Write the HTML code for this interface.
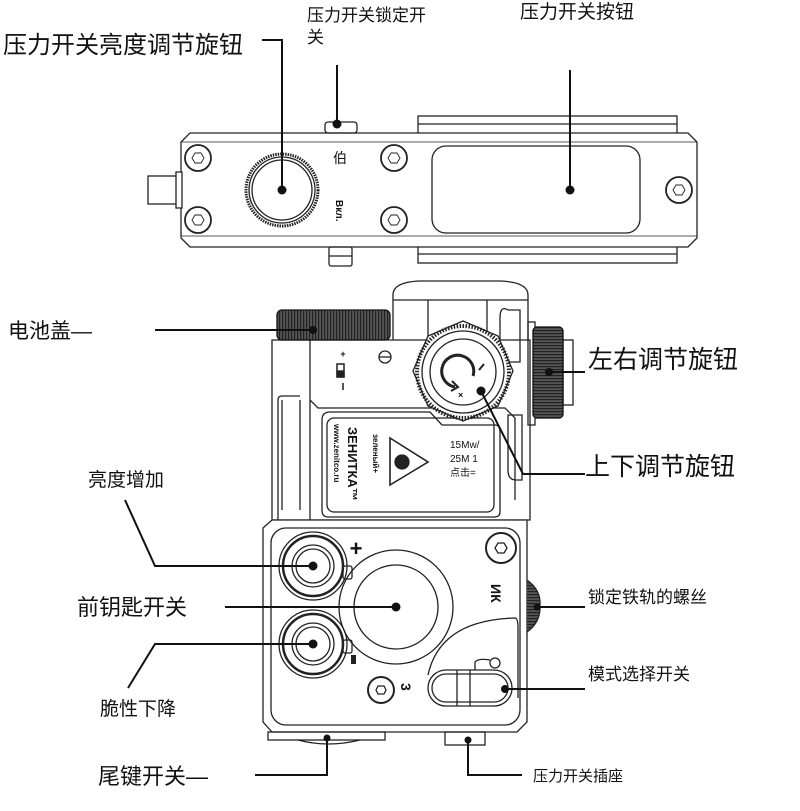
<!DOCTYPE html>
<html><head><meta charset="utf-8"><style>
html,body{margin:0;padding:0;background:#fff;}
svg{display:block;}
text{font-family:"Liberation Sans","Noto Sans CJK SC",sans-serif;fill:#111;}
</style></head><body>
<svg width="800" height="811" viewBox="0 0 800 811" xmlns="http://www.w3.org/2000/svg">
<defs>
<pattern id="kn" width="3" height="10" patternUnits="userSpaceOnUse"><rect width="3" height="10" fill="#555"/><rect width="1.2" height="10" fill="#222"/></pattern>
<pattern id="knh" width="10" height="3" patternUnits="userSpaceOnUse"><rect width="10" height="3" fill="#555"/><rect width="10" height="1.2" fill="#222"/></pattern>
</defs>
<g fill="none" stroke="#222" stroke-width="1.3">
<rect x="418" y="116" width="259" height="26"/>
<line x1="418" y1="124" x2="677" y2="124"/>
<rect x="418" y="237" width="259" height="26"/>
<line x1="418" y1="254" x2="677" y2="254"/>
<path d="M190 133 H688 L697 142 V238 L688 247 H190 L181 238 V142 Z" fill="#fff"/>
<line x1="181" y1="142" x2="697" y2="142" stroke-width="0.8"/>
<line x1="181" y1="236" x2="697" y2="236" stroke-width="0.8"/>
<rect x="148" y="176" width="30" height="28" fill="#fff"/>
<rect x="176" y="172" width="6" height="36" fill="#fff"/>
<rect x="325" y="122" width="32" height="11" rx="3"/>
<rect x="329" y="247" width="23" height="19" rx="2"/>
<line x1="329" y1="256" x2="352" y2="256"/>
<rect x="432" y="146" width="208" height="87" rx="14"/>
<circle cx="282" cy="190" r="36" stroke-width="3" stroke-dasharray="1.5 1"/>
<circle cx="282" cy="190" r="33"/>
<circle cx="282" cy="190" r="30"/>
<g stroke-width="1.8">
<circle cx="198" cy="158" r="13"/><circle cx="198" cy="220" r="13"/>
<circle cx="394" cy="158" r="13"/><circle cx="394" cy="220" r="13"/>
<circle cx="679" cy="190" r="13"/>
</g>
<g stroke-width="0.9">
<polygon points="192,158 195,153 201,153 204,158 201,163 195,163"/>
<polygon points="192,220 195,215 201,215 204,220 201,225 195,225"/>
<polygon points="388,158 391,153 397,153 400,158 397,163 391,163"/>
<polygon points="388,220 391,215 397,215 400,220 397,225 391,225"/>
<polygon points="673,190 676,185 682,185 685,190 682,195 676,195"/>
</g>

<path d="M393 340 V295 Q393 282 420 281 H500 Q528 282 528 295 V340" fill="#fff"/>
<line x1="393" y1="300" x2="528" y2="300"/>
<line x1="428" y1="300" x2="428" y2="340"/>
<line x1="487" y1="300" x2="487" y2="340"/>
<path d="M272 340 H530 V520 H272 Z" fill="#fff"/>
<path d="M310 340 V400 L318 408 H505 L515 418 V500 M310 340 V520" />
<path d="M282 400 V510 M300 400 V510 M278 520 V400 Q278 396 282 396 H300"/>
<path d="M508 310 Q500 305 500 318 V355 Q500 362 508 362 H520 V310 Z"/>
<path d="M508 415 V470 Q508 480 516 480 H522 V415 Z"/>
<rect x="277" y="310" width="113" height="30" rx="5" fill="url(#kn)" stroke="#111"/>
<path d="M330 412 H430 L442 425 H495 Q500 425 500 432 V512 Q500 517 494 517 H328 Q322 517 322 510 V420 Q322 412 330 412 Z"/>
<rect x="327" y="418" width="167" height="94" rx="7"/>
<polygon points="390,438 428,462 390,485" stroke-width="1.6"/>
<circle cx="402" cy="462" r="7" fill="#222"/>
<polygon points="463,321 498,336 513,371 498,406 463,421 428,406 413,371 428,336" fill="#fff"/>
<circle cx="463" cy="372" r="46" stroke-width="4" stroke-dasharray="1.5 1.5"/>
<circle cx="463" cy="372" r="41"/>
<circle cx="463" cy="372" r="33"/>
<path d="M455 387 A16 16 0 1 1 473 376" stroke-width="3"/>
<path d="M452 381 L458 387 L451 391" stroke-width="2"/>
<line x1="479" y1="370" x2="484" y2="364" stroke-width="2"/>
<rect x="528" y="322" width="7" height="103"/>
<rect x="563" y="340" width="10" height="65"/>
<rect x="533" y="327" width="30" height="91" rx="4" fill="url(#knh)" stroke="#111"/>
<circle cx="385" cy="357" r="6"/><line x1="379" y1="357" x2="391" y2="357"/>
<rect x="337" y="364" width="7" height="13" stroke-width="1.5"/>
<rect x="337" y="371" width="7" height="6" fill="#222"/>
<path d="M263 528 L272 520 H527 V722 L517 732 H272 L263 722 Z" fill="#fff"/>
<rect x="271" y="528" width="249" height="197" rx="15"/>
<rect x="268" y="732" width="117" height="8"/>
<path d="M298 740 Q328 748 360 740"/>
<rect x="445" y="732" width="40" height="13"/>
<path d="M527 580 Q541 590 540 605 Q541 622 527 632" fill="url(#knh)"/>
<circle cx="313" cy="566" r="34"/>
<circle cx="313" cy="566" r="30" stroke-width="2.5"/>
<circle cx="313" cy="566" r="21"/><circle cx="313" cy="566" r="17"/>
<circle cx="313" cy="644" r="34"/>
<circle cx="313" cy="644" r="30" stroke-width="2.5"/>
<circle cx="313" cy="644" r="21"/><circle cx="313" cy="644" r="17"/>
<rect x="343" y="566" width="9" height="13" rx="2"/>
<rect x="343" y="640" width="9" height="13" rx="2"/>
<circle cx="396" cy="607" r="57"/>
<circle cx="396" cy="607" r="42"/>
<circle cx="501" cy="548" r="15" stroke-width="2"/>
<polygon points="495,548 498,543 504,543 507,548 504,553 498,553"/>
<circle cx="381" cy="690" r="13" stroke-width="2"/>
<polygon points="376,690 378,686 384,686 386,690 384,694 378,694"/>
<path d="M428 675 Q440 620 515 618 Q518 618 518 628 V698"/>
<rect x="428" y="670" width="84" height="36" rx="18"/>
<rect x="432" y="674" width="76" height="28" rx="14"/>
<line x1="457" y1="670" x2="457" y2="706"/><line x1="470" y1="670" x2="470" y2="706"/>
<circle cx="495" cy="663" r="5"/><path d="M475 670 V662 Q478 658 490 660"/>
</g>

<text x="340" y="163" font-size="14" text-anchor="middle">伯</text>
<text transform="translate(336,200) rotate(90)" font-size="10" font-weight="bold">Вкл.</text>
<text x="343" y="357" font-size="9" font-weight="bold" text-anchor="middle">+</text>
<text x="343" y="390" font-size="10" font-weight="bold" text-anchor="middle">I</text>
<text transform="translate(348,427) rotate(90)" font-size="13" font-weight="bold">ЗЕНИТКА™</text>
<text transform="translate(334,424) rotate(90)" font-size="8" font-weight="bold">www.zenitco.ru</text>
<text transform="translate(373,434) rotate(90)" font-size="8" font-weight="bold">зеленый+</text>
<text x="450" y="448" font-size="10">15Mw/</text>
<text x="450" y="462" font-size="10">25M 1</text>
<text x="450" y="476" font-size="10">点击=</text>
<text x="458" y="398" font-size="9" font-weight="bold">×</text>
<text x="356" y="556" font-size="22" font-weight="bold" text-anchor="middle">+</text>
<rect x="351" y="655" width="5" height="9" fill="#222"/>
<text transform="translate(491,584) rotate(90)" font-size="14" font-weight="bold">ИК</text>
<text transform="translate(401,683) rotate(90)" font-size="14" font-weight="bold">3</text>

<g fill="none" stroke="#111" stroke-width="2">
<polyline points="262,40 282,40 282,190"/>
<line x1="337" y1="65" x2="337" y2="124"/>
<line x1="570" y1="70" x2="570" y2="190"/>
<line x1="155" y1="330" x2="313" y2="330"/>
<line x1="549" y1="372" x2="585" y2="372"/>
<polyline points="481,391 523,474 585,474"/>
<polyline points="125,500 155,566 313,566"/>
<line x1="225" y1="607" x2="396" y2="607"/>
<polyline points="128,688 155,644 313,644"/>
<line x1="536" y1="607" x2="585" y2="607"/>
<line x1="505" y1="689" x2="585" y2="689"/>
<polyline points="255,775 327,775 327,738"/>
<polyline points="468,740 468,775 522,775"/>
</g>
<g fill="#111">
<circle cx="282" cy="190" r="4.5"/><circle cx="337" cy="124" r="4.5"/><circle cx="570" cy="190" r="4.5"/>
<circle cx="313" cy="330" r="4"/><circle cx="549" cy="372" r="4"/><circle cx="481" cy="391" r="4.5"/>
<circle cx="313" cy="566" r="4.5"/><circle cx="396" cy="607" r="4.5"/><circle cx="313" cy="644" r="4.5"/>
<circle cx="537" cy="607" r="3.5"/><circle cx="505" cy="689" r="4"/><circle cx="327" cy="738" r="3.5"/><circle cx="468" cy="740" r="3.5"/>
</g>

<text x="3" y="53" font-size="24">压力开关亮度调节旋钮</text>
<text x="307" y="21" font-size="17">压力开关锁定开</text>
<text x="307" y="43" font-size="17">关</text>
<text x="520" y="18" font-size="19">压力开关按钮</text>
<text x="8" y="338" font-size="21">电池盖—</text>
<text x="588" y="368" font-size="25">左右调节旋钮</text>
<text x="585" y="475" font-size="25">上下调节旋钮</text>
<text x="88" y="486" font-size="19">亮度增加</text>
<text x="77" y="615" font-size="22">前钥匙开关</text>
<text x="100" y="715" font-size="19">脆性下降</text>
<text x="98" y="784" font-size="22">尾键开关—</text>
<text x="588" y="603" font-size="17">锁定铁轨的螺丝</text>
<text x="588" y="680" font-size="17">模式选择开关</text>
<text x="533" y="781" font-size="15">压力开关插座</text>
</svg>
</body></html>
